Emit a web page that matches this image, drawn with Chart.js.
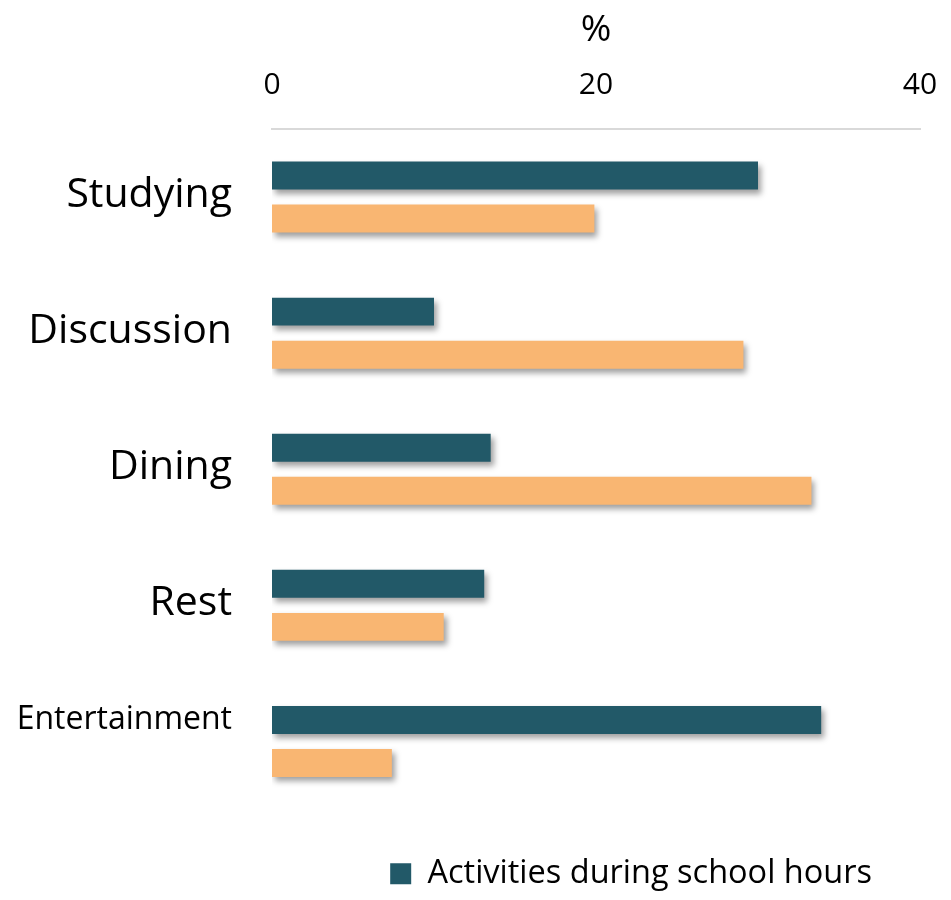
<!DOCTYPE html>
<html>
<head>
<meta charset="utf-8">
<script src="https://cdn.jsdelivr.net/npm/chart.js@4.4.1/dist/chart.umd.min.js"></script>
<style>
  html, body { margin: 0; padding: 0; background: #ffffff; }
  #wrap { width: 951px; height: 900px; }
</style>
</head>
<body>
<div id="wrap"><canvas id="c" width="951" height="900"></canvas></div>
<script>
const categories = ['Studying', 'Discussion', 'Dining', 'Rest', 'Entertainment'];
const duringSchool = [30.0, 10.0, 13.5, 13.1, 33.9];
const afterSchool = [19.9, 29.1, 33.3, 10.6, 7.4];
const seriesNames = ['Activities during school hours', 'Activities after school hours'];
const xTicks = [0, 20, 40];
const axisTitle = '%';

const shadowPlugin = {
  id: 'barShadow',
  beforeDatasetsDraw(chart) {
    const ctx = chart.ctx;
    ctx.save();
    ctx.shadowColor = 'rgba(0,0,0,0.38)';
    ctx.shadowBlur = 6;
    ctx.shadowOffsetX = 3;
    ctx.shadowOffsetY = 4;
  },
  afterDatasetsDraw(chart) {
    chart.ctx.restore();
  }
};

new Chart(document.getElementById('c'), {
  type: 'bar',
  data: {
    labels: categories,
    datasets: [
      { label: seriesNames[0], data: duringSchool, backgroundColor: '#225968',
        categoryPercentage: 0.632, barPercentage: 0.65 },
      { label: seriesNames[1], data: afterSchool, backgroundColor: '#f9b672',
        categoryPercentage: 0.632, barPercentage: 0.65 }
    ]
  },
  options: {
    indexAxis: 'y',
    responsive: false,
    animation: false,
    devicePixelRatio: 1,
    layout: { padding: { left: 0, right: 31, top: 0, bottom: 0 } },
    plugins: {
      tooltip: { enabled: false },
      legend: {
        position: 'bottom',
        align: 'end',
        labels: {
          filter: (item) => item.datasetIndex === 0,
          boxWidth: 21,
          boxHeight: 21,
          padding: 48,
          color: '#000000',
          font: { family: 'Open Sans', size: 32.5 }
        }
      }
    },
    scales: {
      x: {
        position: 'top',
        min: 0,
        max: 40,
        afterBuildTicks: (scale) => { scale.ticks = xTicks.map(v => ({ value: v })); },
        afterFit: (scale) => { scale.height = 129; scale.paddingLeft = 0; scale.paddingRight = 0; },
        grid: { display: false, drawTicks: false },
        border: { display: true, color: '#d9d9d9', width: 2 },
        ticks: {
          color: '#000000',
          padding: 26,
          font: { family: 'Open Sans', size: 30 }
        },
        title: {
          display: true,
          text: axisTitle,
          color: '#000000',
          padding: { top: 8, bottom: 0 },
          font: { family: 'Open Sans', size: 37 }
        }
      },
      y: {
        afterFit: (scale) => { scale.width = 272; },
        grid: { display: false, drawTicks: false },
        border: { display: false },
        ticks: {
          color: '#000000',
          padding: 40,
          labelOffset: -2,
          callback: function (value, index) {
            const lbl = this.getLabelForValue(value);
            return index === categories.length - 1 ? [lbl, ''] : lbl;
          },
          font: (ctx) => ({ family: 'Open Sans', size: ctx.index === categories.length - 1 ? 32 : 41 })
        }
      }
    }
  },
  plugins: [shadowPlugin]
});
</script>
</body>
</html>
